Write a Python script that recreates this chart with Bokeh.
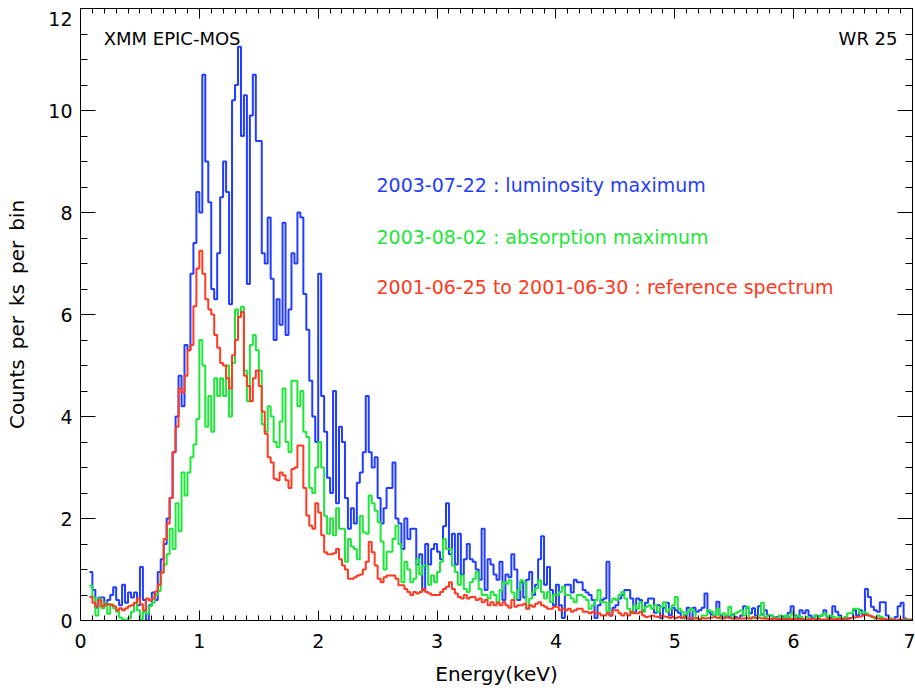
import numpy as np
from bokeh.plotting import figure
from bokeh.models import Range1d, LinearAxis, Label, FixedTicker, CustomJSTickFormatter
from bokeh.embed import file_html
from bokeh.resources import INLINE

# ---------------- data (counts per ks per bin), bins of 0.025 keV starting at 0.075 keV
bin_start_kev = 0.075
bin_width_kev = 0.025

lum_max_2003_07_22 = [
    0.95,
    0.6, 0.25, 0.45, 0.45,   0.3, 0.4, 0.5, 0.65,   0.4, 0.3, 0.7, 0.35,   0.55, 0.45, 0.55, 0.3,
    1.05, 0.4, 0.0, 0.3,     0.55, 0.4, 0.95, 1.2,  1.5, 2.0, 2.4, 3.3,    4.0, 4.8, 4.2, 5.4,
    5.3, 6.8, 7.4, 8.4,      8.0, 10.7, 9.0, 8.2,   6.5, 6.3, 7.2, 8.3,    9.0, 8.4, 6.2, 10.2,
    10.5, 11.25, 9.5, 10.3,  6.6, 9.9, 10.7, 9.4,   9.4, 7.2, 7.0, 7.9,    6.7, 5.5, 6.3, 5.8,
    7.8, 5.6, 6.1, 7.2,      7.0, 8.0, 7.9, 6.4,    5.7, 4.7, 4.0, 3.5,    6.8, 4.4, 3.7, 2.8,
    2.5, 4.5, 2.3, 3.8,      3.5, 2.4, 1.8, 2.2,    1.9, 2.7, 2.9, 3.3,    4.4, 3.3, 3.0, 3.2,
    2.4, 1.9, 2.2, 2.6,      2.6, 3.1, 2.0, 1.9,    1.4, 2.0, 1.6, 1.8,    1.8, 1.1, 1.3, 0.6,
    1.5, 1.1, 1.4, 1.5,      1.35, 1.2, 1.85, 2.3,  1.3, 1.7, 1.1, 1.7,    0.9, 1.2, 1.5, 1.2,
    1.15, 1.0, 0.8, 1.8,     0.6, 1.2, 1.1, 0.9,    0.8, 1.15, 0.4, 0.9,   0.85, 1.3, 1.0, 0.4,
    0.75, 0.45, 0.8, 0.95,   0.5, 0.7, 1.2, 1.65,   0.7, 1.05, 0.6, 0.3,   0.7, 0.3, 0.05, 0.7,
    0.7, 0.55, 0.8, 0.75,    0.75, 0.6, 0.55, 0.5,  0.4, 0.05, 0.3, 0.4,   0.43, 1.15, 0.1, 0.25,
    0.3, 0.43, 0.5, 0.6,     0.6, 0.43, 0.15, 0.43, 0.4, 0.2, 0.35, 0.43,  0.43, 0.15, 0.3, 0.05,
    0.25, 0.35, 0.1, 0.25,   0.2, 0.15, 0.05, 0.1,  0.25, 0.0, 0.25, 0.17, 0.2, 0.25, 0.53, 0.17,
    0.12, 0.1, 0.37, 0.1,    0.05, 0.1, 0.08, 0.12, 0.07, 0.04, 0.1, 0.28, 0.25, 0.14, 0.24, 0.1,
    0.28, 0.12, 0.2, 0.1,    0.1, 0.04, 0.07, 0.0,  0.08, 0.04, 0.15, 0.28, 0.1, 0.05, 0.2, 0.14,
    0.2, 0.1, 0.05, 0.1,     0.08, 0.1, 0.2, 0.07,  0.05, 0.28, 0.17, 0.1, 0.03, 0.0, 0.04, 0.05,
    0.2, 0.1, 0.2, 0.12,     0.62, 0.46, 0.27, 0.2, 0.17, 0.36, 0.36, 0.1, 0.04, 0.0, 0.07, 0.28,
    0.35, 0.04, 0.0, 0.02,
]

abs_max_2003_08_02 = [
    0.68,
    0.45, 0.1, 0.43, 0.24,   0.35, 0.13, 0.32, 0.24, 0.17, 0.06, 0.02, 0.0, 0.05, 0.17, 0.35, 0.2,
    0.02, 0.17, 0.13, 0.28,  0.35, 0.5, 0.58, 0.94, 1.1, 1.3, 1.8, 1.4,    2.3, 1.75, 2.9, 2.45,
    2.9, 3.2, 3.45, 3.95,    5.5, 5.0, 3.8, 4.4,    3.7, 4.75, 4.4, 4.75,  4.4, 5.0, 4.0, 5.05,
    6.1, 5.95, 6.15, 4.9,    4.3, 5.4, 5.6, 5.3,    4.9, 3.85, 3.7, 4.2,   4.0, 3.5, 3.4, 3.9,
    4.55, 3.5, 3.3, 4.7,     4.7, 4.2, 4.5, 3.7,    3.6, 2.6, 2.5, 3.0,    3.5, 3.0, 2.05, 1.7,
    2.0, 1.67, 2.2, 1.8,     1.8, 1.15, 1.6, 1.45,  1.4, 1.2, 2.05, 1.73,  1.7, 2.45, 2.3, 2.15,
    1.93, 1.55, 1.0, 1.35,   1.35, 1.6, 1.86, 1.5,  0.75, 1.15, 1.0, 0.75, 0.82, 1.2, 0.9, 1.08,
    1.08, 0.7, 0.88, 0.75,   0.95, 1.15, 1.6, 1.4,  1.4, 1.08, 0.95, 0.7,  0.88, 0.62, 0.56, 0.75,
    0.82, 0.95, 0.62, 0.5,   0.5, 0.43, 0.56, 0.5,  0.36, 0.6, 0.75, 0.72, 0.79, 0.55, 0.43, 0.6,
    0.79, 0.75, 0.23, 0.43,  0.56, 0.63, 0.79, 0.56, 0.43, 0.56, 0.36, 0.5, 0.5, 0.56, 0.66, 0.5,
    0.5, 0.43, 0.36, 0.5,    0.5, 0.46, 0.4, 0.23,  0.3, 0.4, 0.6, 0.36,   0.36, 0.17, 0.36, 0.43,
    0.4, 0.5, 0.56, 0.43,    0.23, 0.14, 0.3, 0.23, 0.36, 0.17, 0.27, 0.3, 0.23, 0.3, 0.17, 0.27,
    0.36, 0.17, 0.23, 0.3,   0.46, 0.23, 0.17, 0.04, 0.17, 0.23, 0.17, 0.04, 0.0, 0.1, 0.1, 0.2,
    0.17, 0.1, 0.23, 0.04,   0.14, 0.1, 0.27, 0.04, 0.14, 0.17, 0.2, 0.1, 0.27, 0.04, 0.07, 0.04,
    0.1, 0.35, 0.07, 0.1,    0.1, 0.07, 0.04, 0.1,  0.04, 0.1, 0.07, 0.14, 0.04, 0.1, 0.07, 0.02,
    0.07, 0.04, 0.02, 0.1,   0.07, 0.1, 0.14, 0.07, 0.1, 0.07, 0.04, 0.07, 0.04, 0.07, 0.14, 0.14,
    0.23, 0.23, 0.14, 0.17,  0.14, 0.1, 0.07, 0.04, 0.1, 0.07, 0.04, 0.02, 0.04, 0.02, 0.0, 0.02,
    0.02, 0.02, 0.02, 0.02,
]

reference_2001_06 = [
    0.46,
    0.35, 0.28, 0.4, 0.28,   0.32, 0.32, 0.3, 0.28, 0.2, 0.24, 0.2, 0.24,  0.28, 0.3, 0.35, 0.43,
    0.32, 0.2, 0.43, 0.39,   0.43, 0.57, 0.7, 0.94, 1.6, 1.9, 2.4, 3.3,    3.8, 4.55, 4.47, 4.8,
    5.3, 5.4, 6.16, 6.9,     7.25, 6.8, 6.3, 6.1,   6.0, 5.6, 5.35, 5.05,  5.0, 4.75, 4.55, 5.2,
    5.5, 5.95, 6.05, 4.8,    4.6, 4.3, 4.75, 4.9,   4.6, 4.1, 3.66, 3.2,   3.1, 2.78, 2.75, 2.9,
    2.85, 2.75, 2.6, 2.97,   3.0, 3.43, 3.43, 2.6,  2.06, 1.86, 1.8, 2.3,  2.12, 1.67, 1.34, 1.3,
    1.3, 1.32, 1.4, 1.2,     1.08, 1.0, 0.82, 0.82, 0.85, 0.88, 0.9, 1.0,  1.15, 1.54, 1.34, 1.08,
    0.82, 0.75, 0.85, 0.88,  0.88, 0.88, 0.82, 0.69, 0.69, 0.62, 0.56, 0.5, 0.56, 0.53, 0.56, 0.62,
    0.56, 0.53, 0.5, 0.5,    0.5, 0.56, 0.62, 0.66, 0.75, 0.62, 0.53, 0.46, 0.43, 0.5, 0.43, 0.46,
    0.46, 0.4, 0.43, 0.36,   0.4, 0.3, 0.36, 0.3,   0.35, 0.3, 0.36, 0.3,  0.25, 0.4, 0.27, 0.3,
    0.3, 0.33, 0.23, 0.3,    0.27, 0.33, 0.36, 0.3, 0.27, 0.23, 0.23, 0.27, 0.27, 0.2, 0.23, 0.2,
    0.23, 0.17, 0.2, 0.23,   0.23, 0.17, 0.17, 0.14, 0.17, 0.14, 0.14, 0.1, 0.1, 0.14, 0.1, 0.2,
    0.2, 0.14, 0.1, 0.14,    0.1, 0.17, 0.14, 0.14, 0.17, 0.1, 0.07, 0.08, 0.1, 0.08, 0.07, 0.1,
    0.08, 0.07, 0.05, 0.07,  0.05, 0.07, 0.05, 0.07, 0.04, 0.05, 0.04, 0.05, 0.03, 0.05, 0.04, 0.05,
    0.06, 0.07, 0.05, 0.06,  0.04, 0.06, 0.05, 0.04, 0.04, 0.05, 0.04, 0.04, 0.05, 0.04, 0.06, 0.05,
    0.05, 0.04, 0.04, 0.03,  0.03, 0.04, 0.03, 0.03, 0.03, 0.02, 0.03, 0.03, 0.03, 0.02, 0.03, 0.02,
    0.02, 0.03, 0.02, 0.03,  0.03, 0.02, 0.02, 0.03, 0.03, 0.02, 0.03, 0.03, 0.03, 0.04, 0.04, 0.05,
    0.06, 0.07, 0.08, 0.1,   0.11, 0.1, 0.08, 0.06, 0.04, 0.03, 0.03, 0.02, 0.02, 0.02, 0.01, 0.02,
    0.01, 0.01, 0.01, 0.01,
]

series_labels = [
    "2003-07-22 : luminosity maximum",
    "2003-08-02 : absorption maximum",
    "2001-06-25 to 2001-06-30 : reference spectrum",
]
x_ticks = [0, 1, 2, 3, 4, 5, 6, 7]
y_ticks = [0, 2, 4, 6, 8, 10, 12]

BLUE = "#1f3cff"
GREEN = "#1ee63a"
RED = "#ff3a22"
FONT = "DejaVu Sans"

# ---------------- figure
p = figure(width=915, height=688, output_backend="svg", toolbar_location=None,
           x_range=Range1d(0, 7), y_range=Range1d(0, 12),
           min_border_left=80, min_border_right=3, min_border_top=8, min_border_bottom=66)
p.background_fill_color = "white"
p.border_fill_color = "white"
p.outline_line_color = "black"
p.outline_line_width = 1
p.xgrid.visible = False
p.ygrid.visible = False


def steps(vals):
    n = len(vals)
    edges = bin_start_kev + bin_width_kev * np.arange(n + 1)
    yv = list(vals) + [vals[-1]]
    return edges, yv


for vals, col in [(lum_max_2003_07_22, BLUE), (abs_max_2003_08_02, GREEN), (reference_2001_06, RED)]:
    ex, ey = steps(vals)
    p.step(ex, ey, mode="after", line_color=col, line_width=2)

# axes
empty = CustomJSTickFormatter(code="return ''")


def style_axis(ax, major_len, minor_len, labels=True):
    ax.axis_line_color = "black"
    ax.major_tick_line_color = "black"
    ax.minor_tick_line_color = "black"
    ax.major_tick_in = major_len
    ax.major_tick_out = 0
    ax.minor_tick_in = minor_len
    ax.minor_tick_out = 0
    if labels:
        ax.major_label_text_font = FONT
        ax.major_label_text_font_size = "19px"
        ax.major_label_text_color = "black"
    else:
        ax.formatter = empty
        ax.major_label_standoff = 0
        ax.major_label_text_font_size = "1px"


xt = FixedTicker(ticks=x_ticks, minor_ticks=[round(0.1 * i, 1) for i in range(71)])
yt = FixedTicker(ticks=y_ticks, minor_ticks=[0.5 * i for i in range(25)])

p.xaxis.ticker = xt
p.yaxis.ticker = yt
style_axis(p.xaxis[0], 10, 5)
style_axis(p.yaxis[0], 15, 7)
# the top label "12" sits a little below its tick (as in the reference) so it is not cut
p.yaxis.major_label_overrides = {12: "\n12"}
p.yaxis.major_label_text_line_height = 0.35
p.xaxis.major_label_standoff = 13
p.yaxis.major_label_standoff = 8
p.xaxis.axis_label = "Energy(keV)"
p.yaxis.axis_label = "Counts\u2002per\u2002ks\u2002per\u2002bin"
for ax in (p.xaxis[0], p.yaxis[0]):
    ax.axis_label_text_font = FONT
    ax.axis_label_text_font_size = "20px"
    ax.axis_label_text_font_style = "normal"
    ax.axis_label_text_color = "black"
p.xaxis.axis_label_standoff = 11
p.yaxis.axis_label_standoff = 16

top = LinearAxis(ticker=FixedTicker(ticks=x_ticks, minor_ticks=[round(0.1 * i, 1) for i in range(71)]))
style_axis(top, 10, 5, labels=False)
p.add_layout(top, "above")
right = LinearAxis(ticker=FixedTicker(ticks=y_ticks, minor_ticks=[0.5 * i for i in range(25)]))
style_axis(right, 15, 7, labels=False)
p.add_layout(right, "right")

# annotations
p.add_layout(Label(x=0.195, y=11.41, text="XMM EPIC-MOS", text_font=FONT, text_font_size="18px",
                   text_baseline="middle", text_align="left", text_color="black"))
p.add_layout(Label(x=6.874, y=11.41, text="WR 25", text_font=FONT, text_font_size="18px",
                   text_baseline="middle", text_align="right", text_color="black"))
for lab, col, yy in zip(series_labels, [BLUE, GREEN, RED], [8.54, 7.52, 6.53]):
    p.add_layout(Label(x=2.49, y=yy, text=lab, text_font=FONT, text_font_size="19px",
                       text_baseline="middle", text_align="left", text_color=col))

open("out.html", "w").write(file_html(p, INLINE))
